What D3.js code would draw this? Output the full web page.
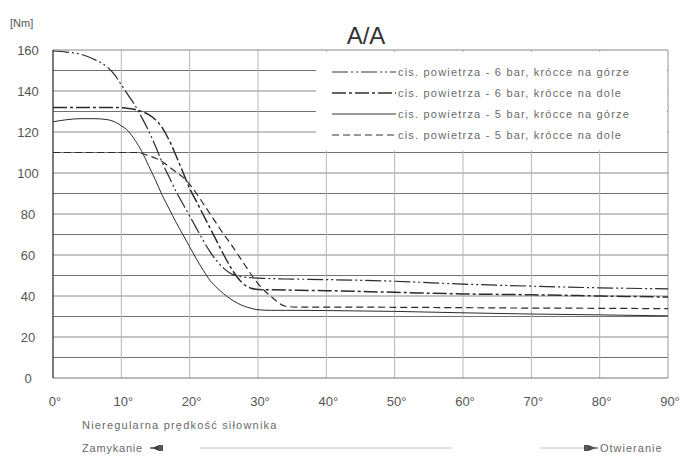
<!DOCTYPE html>
<html><head><meta charset="utf-8">
<script src="https://cdn.jsdelivr.net/npm/d3@7/dist/d3.min.js"></script>
<style>body{margin:0;background:#fff}svg{display:block}text{font-family:"Liberation Sans",Arial,sans-serif}</style>
</head><body><svg id="c" width="683" height="459"></svg>
<script>
const angles = [0,2,4,6,8,9,10,11,12,13,14,15,16,17,18,19,20,21,22,23,24,25,26,27,28,29,30,32,34,36,40,50,60,70,80,90];
const bar6Top = [159.5,159,158,155.5,151.5,148,143,138,133,127,120.5,113,105,98,91,85,79,73,67,61.5,57,53.5,51,49.8,49.2,48.9,48.7,48.5,48.3,48.2,48,47.2,45.8,44.8,44,43.5];
const bar6Bottom = [132,132,132,132,132,132,131.8,131.5,131,130,128.5,126,122,116,108.5,100.5,92.5,86,79.5,73,66.5,60,54,49,45.5,43.8,43.2,43,42.9,42.8,42.6,41.8,41,40.6,40,39.5];
const bar5Top = [125,126,126.5,126.5,126,125,123,120.5,116,110.5,103.5,96.5,89,82.5,76,70,64,58,52.5,47.5,44,41,38.5,36.5,35,34,33.3,33,33,33,32.9,32.5,31.8,31.2,30.8,30.3];
const bar5Bottom = [110,110,110,110,110,110,110,110,110,109.5,108.5,107.2,105.5,103,100.5,98,94.5,90,85,80,75,70,65.5,60.5,55.5,50.5,46,39.5,35,34.6,34.6,34.5,34.3,34.1,34,33.8];
const seriesNames = ["cis. powietrza - 6 bar, krócce na górze","cis. powietrza - 6 bar, krócce na dole","cis. powietrza - 5 bar, krócce na górze","cis. powietrza - 5 bar, krócce na dole"];
const yTicks = [0,20,40,60,80,100,120,140,160];
const xTicks = [0,10,20,30,40,50,60,70,80,90];
const title = "A/A", unit = "[Nm]";
const noteText = "Nieregularna prędkość siłownika", closeText = "Zamykanie", openText = "Otwieranie";

const svg = d3.select("#c");
const x = d3.scaleLinear().domain([0,90]).range([53,668]);
const y = d3.scaleLinear().domain([0,160]).range([378,50]);

// grid
const g = svg.append("g");
g.selectAll(".h").data(d3.range(10,160,10)).join("line")
  .attr("x1",x(0)).attr("x2",x(90)).attr("y1",d=>y(d)).attr("y2",d=>y(d))
  .attr("stroke",d=>d%20===0?"#8a8a8a":"#707070").attr("stroke-width",1);
g.selectAll(".v").data(d3.range(10,90,10)).join("line")
  .attr("x1",d=>x(d)).attr("x2",d=>x(d)).attr("y1",y(0)).attr("y2",y(160))
  .attr("stroke","#b5b5b5").attr("stroke-width",1);
// frame
g.append("line").attr("x1",x(0)).attr("x2",x(90)).attr("y1",y(160)).attr("y2",y(160)).attr("stroke","#888");
g.append("line").attr("x1",x(90)).attr("x2",x(90)).attr("y1",y(0)).attr("y2",y(160)).attr("stroke","#999");
g.append("line").attr("x1",x(0)).attr("x2",x(90)).attr("y1",y(0)).attr("y2",y(0)).attr("stroke","#777");
g.append("line").attr("x1",x(0)).attr("x2",x(0)).attr("y1",y(0)).attr("y2",y(160)).attr("stroke","#333").attr("stroke-width",1.3);

// legend background
svg.append("rect").attr("x",316).attr("y",y(160)+2).attr("width",x(90)-316-1).attr("height",y(111)-y(160)-2).attr("fill","#fff");

// series
const styles = [
  {data:bar6Top, dash:"16,3,2,3,2,3", w:1.2},
  {data:bar6Bottom, dash:"14,3,3,3", w:1.5},
  {data:bar5Top, dash:null, w:1},
  {data:bar5Bottom, dash:"7,4", w:1.2}
];
const line = d3.line().x((d,i)=>x(angles[i])).y(d=>y(d)).curve(d3.curveMonotoneX);
styles.forEach(s=>{
  svg.append("path").attr("d",line(s.data)).attr("fill","none")
    .attr("stroke","#2b2b2b").attr("stroke-width",s.w)
    .attr("stroke-dasharray",s.dash);
});

// legend
const lg = svg.append("g");
seriesNames.forEach((n,i)=>{
  const yy = 72 + i*21;
  lg.append("line").attr("x1",332).attr("x2",396).attr("y1",yy).attr("y2",yy)
    .attr("stroke","#333").attr("stroke-width",styles[i].w).attr("stroke-dasharray",styles[i].dash);
  lg.append("text").attr("x",398).attr("y",yy+4).attr("font-size",11).attr("letter-spacing",1.2)
    .attr("fill","#6a6a6a").text(n);
});

// axes labels
svg.selectAll(".yt").data(yTicks).join("text")
  .attr("x",28).attr("y",d=>y(d)+5).attr("text-anchor","middle")
  .attr("font-size",13).attr("fill","#555").text(d=>d);
svg.selectAll(".xt").data(xTicks).join("text")
  .attr("x",d=>x(d)+2).attr("y",406).attr("text-anchor","middle")
  .attr("font-size",13).attr("fill","#555").text(d=>d+"°");

svg.append("text").attr("x",10).attr("y",27).attr("font-size",11).attr("fill","#555").text(unit);
svg.append("text").attr("x",366).attr("y",44).attr("text-anchor","middle").attr("font-size",24).attr("fill","#333").text(title);

// bottom notes
svg.append("text").attr("x",82).attr("y",429).attr("font-size",11).attr("letter-spacing",1.2).attr("fill","#6a6a6a").text(noteText);
svg.append("text").attr("x",82).attr("y",452).attr("font-size",11).attr("letter-spacing",0.8).attr("fill","#6a6a6a").text(closeText);
svg.append("line").attr("x1",150).attr("x2",160).attr("y1",448).attr("y2",448).attr("stroke","#555").attr("stroke-width",1.5);
svg.append("path").attr("d","M152,448 L159,445 L159,451 Z").attr("fill","#444");
svg.append("rect").attr("x",159).attr("y",445).attr("width",4).attr("height",6).attr("fill","#555");
svg.append("line").attr("x1",200).attr("x2",452).attr("y1",448).attr("y2",448).attr("stroke","#c4c4c4");
svg.append("line").attr("x1",540).attr("x2",584).attr("y1",448).attr("y2",448).attr("stroke","#c4c4c4");
svg.append("rect").attr("x",584).attr("y",445).attr("width",4).attr("height",6).attr("fill","#555");
svg.append("path").attr("d","M588,445 L596,448 L588,451 Z").attr("fill","#444");
svg.append("line").attr("x1",588).attr("x2",598).attr("y1",448).attr("y2",448).attr("stroke","#555").attr("stroke-width",1.2);
svg.append("text").attr("x",600).attr("y",452).attr("font-size",11).attr("letter-spacing",1).attr("fill","#6a6a6a").text(openText);
</script></body></html>
